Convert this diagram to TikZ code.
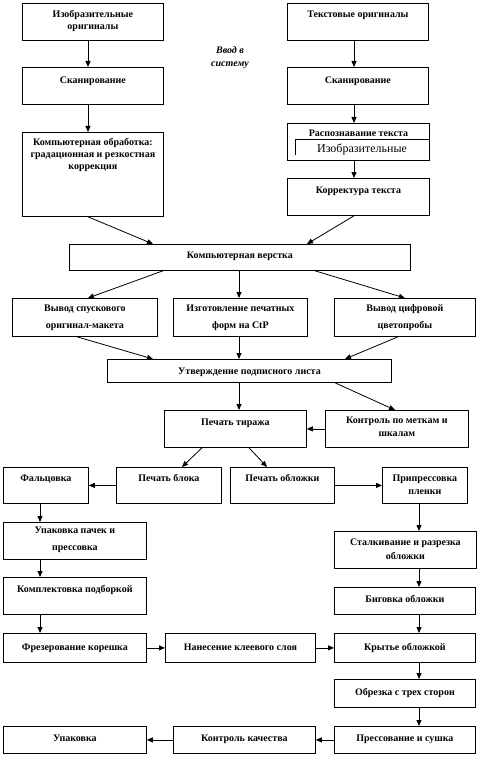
\documentclass[tikz,border=0pt]{standalone}
\usepackage{fontspec}
\setmainfont{Liberation Serif}
\usetikzlibrary{arrows.meta}
\newcommand{\bx}[4][14]{\parbox[t][#3pt][t]{#2pt}{\centering\rule{0pt}{#1pt}#4}}
\begin{document}
\begin{tikzpicture}[x=1pt,y=-1pt,line width=0.8pt,>={Triangle[length=6pt,width=5pt]},
  blk/.style={draw,inner sep=0pt,anchor=north west,font=\fontsize{10}{12}\selectfont\bfseries},
  loose/.style={font=\fontsize{10}{17.5}\selectfont\bfseries}]
\useasboundingbox (0,0) rectangle (486,757);
\coordinate (LT) at (88,0);
\coordinate (RT) at (354,0);
\coordinate (MC) at (239,0);
\coordinate (LC) at (40,0);
\coordinate (RC) at (419,0);
\node[blk] (izo) at (22,3) {\bx{141}{37}{Изобразительные\\оригиналы}};
\node[blk] (txt) at (287,3) {\bx{141}{37}{Текстовые оригиналы}};
\node[font=\fontsize{10}{13}\selectfont\bfseries\itshape,align=center] (vvod) at (230,58) {Ввод в\\систему};
\node[blk] (scanL) at (22,67) {\bx[16]{141}{37}{Сканирование}};
\node[blk] (scanR) at (287,67) {\bx[16]{141}{37}{Сканирование}};
\node[blk] (proc) at (22,132) {\bx[13]{141}{84}{Компьютерная обработка:\\градационная и резкостная\\коррекция}};
\node[blk] (recog) at (287,123) {\bx[13]{142}{37}{Распознавание текста}};
\node[blk] (korr) at (287,178) {\bx[15]{142}{37}{Корректура текста}};
\node[blk] (verst) at (69,244) {\bx{341}{26}{Компьютерная верстка}};
\node[blk,loose] (vyvod) at (12,298) {\bx[13]{145}{38}{Вывод спускового\\оригинал-макета}};
\node[blk,loose] (ctp) at (173,298) {\bx[13]{134}{38}{Изготовление печатных\\форм на CtP}};
\node[blk,loose] (proof) at (334,298) {\bx[13]{141}{38}{Вывод цифровой\\цветопробы}};
\node[blk] (podp) at (107,359) {\bx[15]{284}{23}{Утверждение подписного листа}};
\node[blk] (tiraz) at (164,410) {\bx[15]{142}{37}{Печать тиража}};
\node[blk,font=\fontsize{10}{13}\selectfont\bfseries] (kontr) at (325,410) {\bx[13]{143}{37}{Контроль по меткам и\\шкалам}};
\node[blk] (falc) at (3,467) {\bx{85}{36}{Фальцовка}};
\node[blk] (blok) at (116,467) {\bx{105}{36}{Печать блока}};
\node[blk] (obl) at (230,467) {\bx{104}{36}{Печать обложки}};
\node[blk,font=\fontsize{10}{13}\selectfont\bfseries] (pripr) at (382,467) {\bx{85}{36}{Припрессовка\\пленки}};
\node[blk,loose] (upak1) at (3,522) {\bx[11]{143}{37}{Упаковка пачек и\\прессовка}};
\node[blk] (kompl) at (3,577) {\bx[15]{143}{37}{Комплектовка подборкой}};
\node[blk] (frez) at (3,633) {\bx[17]{143}{29}{Фрезерование корешка}};
\node[blk] (nanes) at (165,633) {\bx[17]{150}{29}{Нанесение клеевого слоя}};
\node[blk] (kryt) at (334,633) {\bx[17]{141}{29}{Крытье обложкой}};
\node[blk,font=\fontsize{10}{14}\selectfont\bfseries] (stalk) at (334,531) {\bx{142}{37}{Сталкивание и разрезка\\обложки}};
\node[blk] (big) at (334,587) {\bx[15]{141}{27}{Биговка обложки}};
\node[blk] (obrez) at (334,679) {\bx[16]{141}{28}{Обрезка с трех сторон}};
\node[blk] (press) at (334,726) {\bx[15]{141}{27}{Прессование и сушка}};
\node[blk] (kach) at (173,726) {\bx[15]{142}{27}{Контроль качества}};
\node[blk] (upak2) at (3,726) {\bx[15]{143}{27}{Упаковка}};
\draw (295,155) |- (429,139);
\node[font=\fontsize{12}{14}\selectfont] (izoin) at (362,149) {Изобразительные};
\draw[->] (izo.south -| LT) -- (scanL.north -| LT);
\draw[->] (scanL.south -| LT) -- (proc.north -| LT);
\draw[->] (txt.south -| RT) -- (scanR.north -| RT);
\draw[->] (scanR.south -| RT) -- (recog.north -| RT);
\draw[->] (recog.south -| RT) -- (korr.north -| RT);
\draw[->] (proc.south -| LT) -- ([xshift=84]verst.north west);
\draw[->] (korr.south -| RT) -- ([xshift=238]verst.north west);
\draw[->] ([xshift=94]verst.south west) -- ([xshift=76]vyvod.north west);
\draw[->] (verst.south -| MC) -- (ctp.north -| MC);
\draw[->] ([xshift=246]verst.south west) -- (proof.north);
\draw[->] ([xshift=65]vyvod.south west) -- ([xshift=46]podp.north west);
\draw[->] (ctp.south -| MC) -- (podp.north -| MC);
\draw[->] ([xshift=64]proof.south west) -- ([xshift=238]podp.north west);
\draw[->] (podp.south -| MC) -- (tiraz.north -| MC);
\draw[->] ([xshift=228]podp.south west) -- ([xshift=70]kontr.north west);
\draw[->] (kontr.west) -- (tiraz.east);
\draw[->] ([xshift=38]tiraz.south west) -- ([xshift=66]blok.north west);
\draw[->] ([xshift=85]tiraz.south west) -- ([xshift=37]obl.north west);
\draw[->] (blok.west) -- (falc.east);
\draw[->] (obl.east) -- (pripr.west);
\draw[->] (falc.south -| LC) -- (upak1.north -| LC);
\draw[->] (upak1.south -| LC) -- (kompl.north -| LC);
\draw[->] (kompl.south -| LC) -- (frez.north -| LC);
\draw[->] (frez.east) -- (nanes.west);
\draw[->] (nanes.east) -- (kryt.west);
\draw[->] (pripr.south -| RC) -- (stalk.north -| RC);
\draw[->] (stalk.south -| RC) -- (big.north -| RC);
\draw[->] (big.south -| RC) -- (kryt.north -| RC);
\draw[->] (kryt.south -| RC) -- (obrez.north -| RC);
\draw[->] (obrez.south -| RC) -- (press.north -| RC);
\draw[->] (press.west) -- (kach.east);
\draw[->] (kach.west) -- (upak2.east);
\end{tikzpicture}
\end{document}
